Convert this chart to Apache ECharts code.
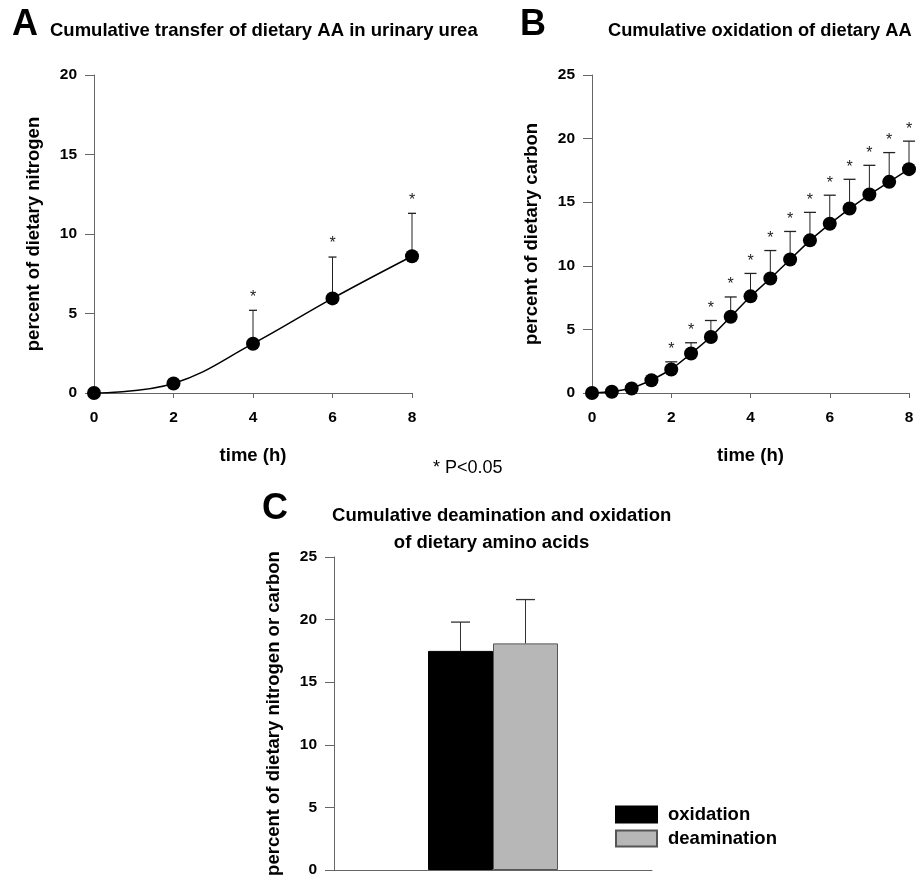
<!DOCTYPE html>
<html><head><meta charset="utf-8">
<script src="https://cdn.jsdelivr.net/npm/echarts@6/dist/echarts.min.js"></script>
<style>html,body{margin:0;padding:0;background:#fff}#c{width:917px;height:878px}</style>
</head><body><div id="c"></div>
<script>
// Panel A: cumulative transfer of dietary AA in urinary urea
const timeA = [0, 2, 4, 6, 8];
const meanA = [0, 0.6, 3.1, 5.95, 8.6];
const upperA = [0, 0.85, 5.2, 8.55, 11.3];
const starA = [0, 0, 1, 1, 1];
// Panel B: cumulative oxidation of dietary AA
const timeB = [0, 0.5, 1, 1.5, 2, 2.5, 3, 3.5, 4, 4.5, 5, 5.5, 6, 6.5, 7, 7.5, 8];
const meanB = [0, 0.1, 0.35, 1.0, 1.85, 3.1, 4.4, 6.0, 7.6, 9.0, 10.5, 12.0, 13.3, 14.5, 15.6, 16.6, 17.6];
const upperB = [0, 0.1, 0.35, 1.0, 2.45, 3.95, 5.7, 7.55, 9.4, 11.2, 12.7, 14.2, 15.55, 16.8, 17.9, 18.9, 19.8];
const starB = [0, 0, 0, 0, 1, 1, 1, 1, 1, 1, 1, 1, 1, 1, 1, 1, 1];
// Panel C
const catC = ['8 h'];
const oxidationC = [17.5];
const oxidationUpperC = [19.8];
const deaminationC = [18.1];
const deaminationUpperC = [21.6];

const FF = '"Liberation Sans", Arial, Helvetica, sans-serif';
const AX = '#666';

function errRender(capW, starGap) {
  return function (params, api) {
    const x = api.value(0), y = api.value(1), u = api.value(2), s = api.value(3);
    const p0 = api.coord([x, y]), p1 = api.coord([x, u]);
    const ch = [
      {type: 'line', shape: {x1: p0[0], y1: p0[1], x2: p1[0], y2: p1[1]}, style: {stroke: '#222', lineWidth: 1}},
      {type: 'line', shape: {x1: p1[0] - capW / 2, y1: p1[1], x2: p1[0] + capW / 2, y2: p1[1]}, style: {stroke: '#222', lineWidth: 1.3}}
    ];
    if (s) ch.push({type: 'text', x: p1[0], y: p1[1] - starGap,
      style: {text: '*', align: 'center', verticalAlign: 'middle', font: '16px ' + FF, fill: '#222'}});
    return {type: 'group', children: ch};
  };
}
function barErrRender(capW, off) {
  return function (params, api) {
    const y = api.value(1), u = api.value(2), sgn = api.value(3);
    const p0 = api.coord([0, y]), p1 = api.coord([0, u]);
    const cx = p0[0] + sgn * off;
    return {type: 'group', children: [
      {type: 'line', shape: {x1: cx, y1: p0[1], x2: cx, y2: p1[1]}, style: {stroke: '#333', lineWidth: 1}},
      {type: 'line', shape: {x1: cx - capW / 2, y1: p1[1], x2: cx + capW / 2, y2: p1[1]}, style: {stroke: '#333', lineWidth: 1.3}}
    ]};
  };
}

const tickLabel = {color: '#000', fontFamily: FF, fontWeight: 'bold', fontSize: 15.5};
const nameStyle = {color: '#000', fontFamily: FF, fontWeight: 'bold', fontSize: 18.5};

function valX(grid, name) {
  return {type: 'value', gridIndex: grid, min: 0, max: 8, interval: 2, name: name,
    nameLocation: 'middle', nameGap: 53, nameTextStyle: nameStyle,
    axisLine: {show: true, lineStyle: {color: AX, width: 1}},
    axisTick: {show: true, length: 5, lineStyle: {color: AX}},
    axisLabel: Object.assign({margin: 17}, tickLabel), splitLine: {show: false}};
}
function valY(grid, max, name) {
  return {type: 'value', gridIndex: grid, min: 0, max: max, interval: 5, name: name,
    nameLocation: 'middle', nameGap: 51, nameRotate: 90, nameTextStyle: nameStyle,
    axisLine: {show: true, lineStyle: {color: AX, width: 1}},
    axisTick: {show: true, length: 9, lineStyle: {color: AX}},
    axisLabel: Object.assign({margin: 17}, tickLabel), splitLine: {show: false}};
}

const chart = echarts.init(document.getElementById('c'), null, {renderer: 'canvas'});
chart.setOption({
  animation: false,
  backgroundColor: '#fff',
  grid: [
    {left: 94, top: 75, width: 318, height: 318},
    {left: 592, top: 75, width: 317, height: 318},
    {left: 334, top: 557, width: 318, height: 317}
  ],
  xAxis: [
    valX(0, 'time (h)'),
    valX(1, 'time (h)'),
    {type: 'category', gridIndex: 2, data: catC, axisLine: {show: true, lineStyle: {color: AX}},
      axisTick: {show: false}, axisLabel: {show: false}}
  ],
  yAxis: [
    valY(0, 20, 'percent of dietary nitrogen'),
    valY(1, 25, 'percent of dietary carbon'),
    valY(2, 25, 'percent of dietary nitrogen or carbon')
  ],
  legend: {
    orient: 'vertical', left: 615, top: 805, padding: 0, itemWidth: 41, itemHeight: 16, itemGap: 5,
    icon: 'rect', data: ['oxidation', 'deamination'],
    textStyle: {color: '#000', fontFamily: FF, fontWeight: 'bold', fontSize: 18.5, padding: [0, 0, 0, 6]}
  },
  graphic: [
    {type: 'text', x: 12, y: 25.5, style: {text: 'A', font: 'bold 36px ' + FF, fill: '#000', align: 'left', verticalAlign: 'middle'}},
    {type: 'text', x: 50, y: 30.5, style: {text: 'Cumulative transfer of dietary AA in urinary urea', font: 'bold 18.5px ' + FF, fill: '#000', align: 'left', verticalAlign: 'middle'}},
    {type: 'text', x: 520, y: 25.5, style: {text: 'B', font: 'bold 36px ' + FF, fill: '#000', align: 'left', verticalAlign: 'middle'}},
    {type: 'text', x: 608, y: 30.5, style: {text: 'Cumulative oxidation of dietary AA', font: 'bold 18.3px ' + FF, fill: '#000', align: 'left', verticalAlign: 'middle'}},
    {type: 'text', x: 433, y: 468, style: {text: '* P<0.05', font: '18px ' + FF, fill: '#000', align: 'left', verticalAlign: 'middle'}},
    {type: 'text', x: 262, y: 509, style: {text: 'C', font: 'bold 36px ' + FF, fill: '#000', align: 'left', verticalAlign: 'middle'}},
    {type: 'text', x: 501.7, y: 515.5, style: {text: 'Cumulative deamination and oxidation', font: 'bold 18.5px ' + FF, fill: '#000', align: 'center', verticalAlign: 'middle'}},
    {type: 'text', x: 491.5, y: 542.5, style: {text: 'of dietary amino acids', font: 'bold 18.5px ' + FF, fill: '#000', align: 'center', verticalAlign: 'middle'}}
  ],
  series: [
    {type: 'custom', xAxisIndex: 0, yAxisIndex: 0, z: 1, renderItem: errRender(8, 13),
      encode: {x: 0, y: [1, 2]},
      data: timeA.map((t, i) => [t, meanA[i], upperA[i], starA[i]])},
    {type: 'line', xAxisIndex: 0, yAxisIndex: 0, z: 3, smooth: 0.4,
      data: timeA.map((t, i) => [t, meanA[i]]),
      symbol: 'circle', symbolSize: 14, itemStyle: {color: '#000'},
      lineStyle: {color: '#000', width: 1.5}},
    {type: 'custom', xAxisIndex: 1, yAxisIndex: 1, z: 1, renderItem: errRender(12, 12),
      encode: {x: 0, y: [1, 2]},
      data: timeB.map((t, i) => [t, meanB[i], upperB[i], starB[i]])},
    {type: 'line', xAxisIndex: 1, yAxisIndex: 1, z: 3,
      data: timeB.map((t, i) => [t, meanB[i]]),
      symbol: 'circle', symbolSize: 14, itemStyle: {color: '#000'},
      lineStyle: {color: '#000', width: 1.5}},
    {name: 'oxidation', type: 'bar', xAxisIndex: 2, yAxisIndex: 2, data: oxidationC,
      barWidth: 65, barGap: '0%', itemStyle: {color: '#000', borderColor: '#000', borderWidth: 1}},
    {name: 'deamination', type: 'bar', xAxisIndex: 2, yAxisIndex: 2, data: deaminationC,
      barWidth: 65, barGap: '0%', itemStyle: {color: '#b7b7b7', borderColor: '#555', borderWidth: 1}},
    {type: 'custom', xAxisIndex: 2, yAxisIndex: 2, z: 3, renderItem: barErrRender(19, 32.5),
      encode: {x: 0, y: [1, 2]},
      data: [[0, oxidationC[0], oxidationUpperC[0], -1], [0, deaminationC[0], deaminationUpperC[0], 1]]}
  ]
});
</script></body></html>
